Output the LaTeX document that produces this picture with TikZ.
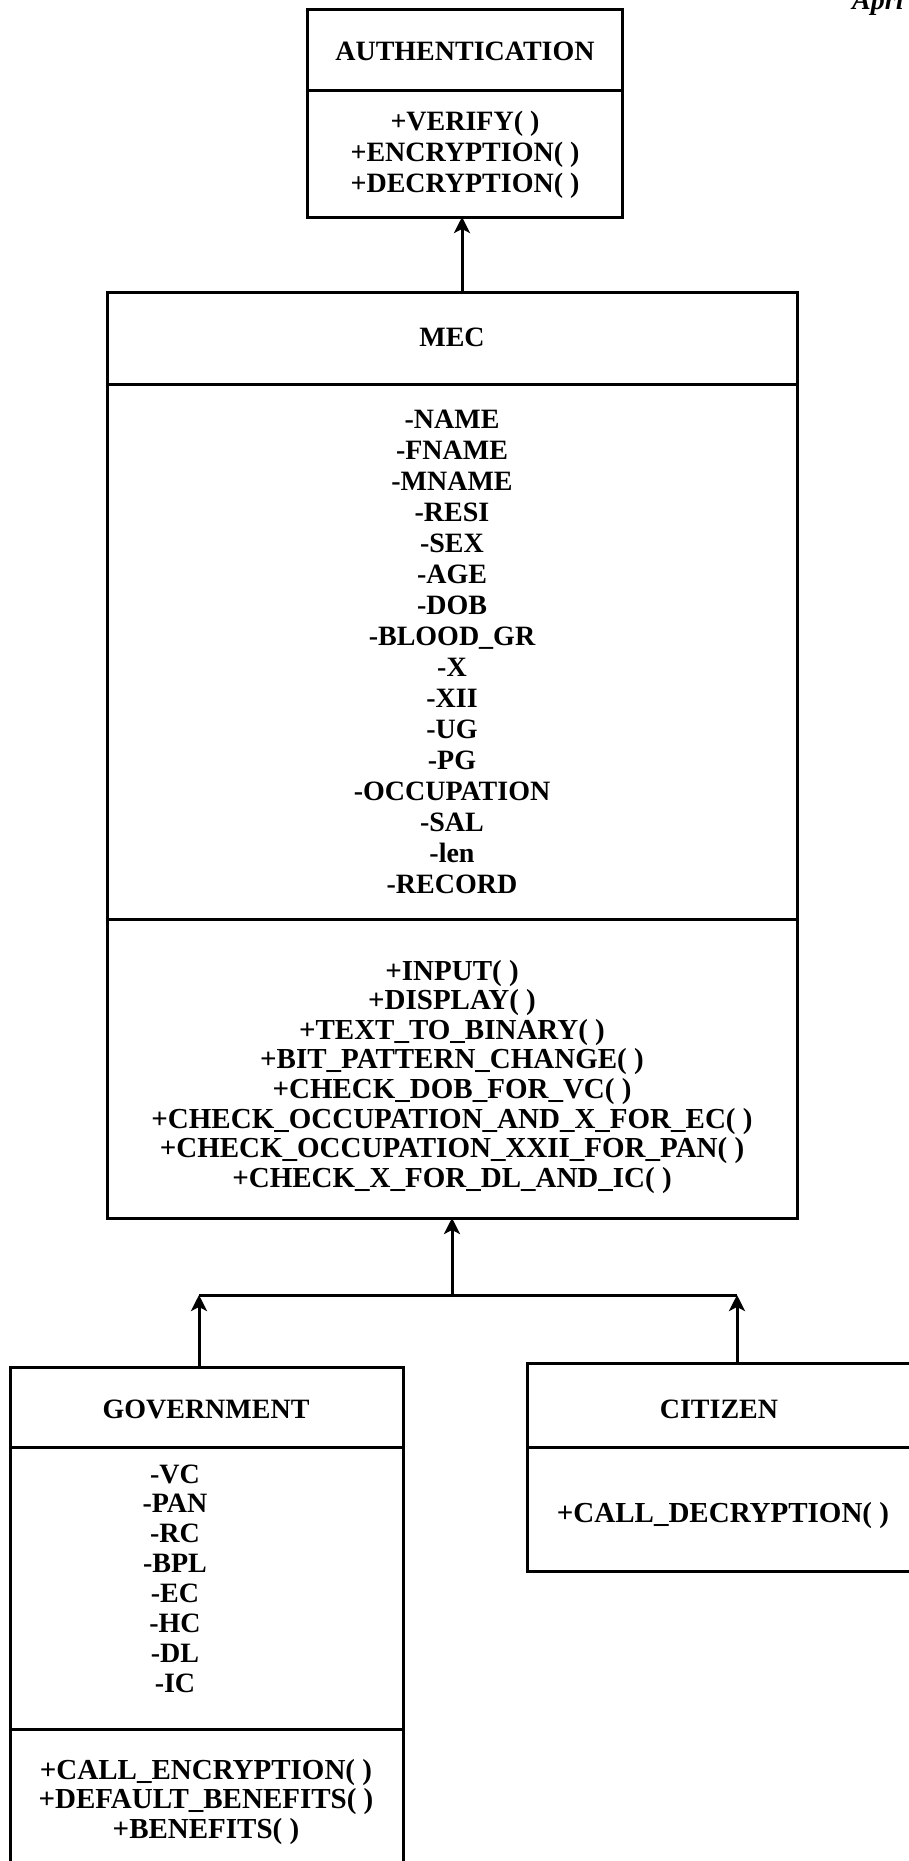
\documentclass[tikz,border=0pt]{standalone}
\usepackage{fontspec}
\setmainfont{Liberation Serif}
\usetikzlibrary{arrows.meta}
\begin{document}
\begin{tikzpicture}[x=1pt,y=-1pt,
  box/.style={draw, line width=3pt, inner sep=0pt, outer sep=0pt, anchor=north west, rectangle},
  divider/.style={line width=3pt},
  txt/.style={font=\fontsize{28}{30}\selectfont\bfseries, anchor=base, inner sep=0pt},
  bigtxt/.style={txt, font=\fontsize{29}{30}\selectfont\bfseries},
  arr/.style={line width=3pt, -{Stealth[length=16pt,width=16pt,inset=4pt]}},
  conn/.style={line width=3pt}]
\path[use as bounding box] (0,0) rectangle (909,1861);
\clip (0,0) rectangle (909,1861);
\fill[white] (0,0) rectangle (909,1861);

% boxes
\node[box, minimum width=315pt, minimum height=208pt] (auth) at (307,9) {};
\node[box, minimum width=690pt, minimum height=926pt] (mec) at (107,292) {};
\node[box, minimum width=393pt, minimum height=600pt] (gov) at (10,1367) {};
\node[box, minimum width=420pt, minimum height=208pt] (cit) at (527,1363) {};

% dividers
\draw[divider] (auth.west |- 0,90) -- (auth.east |- 0,90);
\draw[divider] (mec.west |- 0,384) -- (mec.east |- 0,384);
\draw[divider] (mec.west |- 0,919) -- (mec.east |- 0,919);
\draw[divider] (gov.west |- 0,1447) -- (gov.east |- 0,1447);
\draw[divider] (gov.west |- 0,1729) -- (gov.east |- 0,1729);
\draw[divider] (cit.west |- 0,1447) -- (cit.east |- 0,1447);

% AUTHENTICATION
\node[txt] (authT) at (465,60) {AUTHENTICATION};
\foreach [count=\i] \t in {+VERIFY( ),+ENCRYPTION( ),+DECRYPTION( )}
  \node[txt] (authM\i) at (465,{130+(\i-1)*31}) {\t};

% MEC
\node[txt] (mecT) at (452,346) {MEC};
\foreach [count=\i] \t in {-NAME,-FNAME,-MNAME,-RESI,-SEX,-AGE,-DOB,-BLOOD\_GR,-X,-XII,-UG,-PG,-OCCUPATION,-SAL,-len,-RECORD}
  \node[txt] (mecA\i) at (452,{428+(\i-1)*31}) {\t};
\foreach [count=\i] \t in {+INPUT( ),+DISPLAY( ),+TEXT\_TO\_BINARY( ),+BIT\_PATTERN\_CHANGE( ),+CHECK\_DOB\_FOR\_VC( ),+CHECK\_OCCUPATION\_AND\_X\_FOR\_EC( ),+CHECK\_OCCUPATION\_XXII\_FOR\_PAN( ),+CHECK\_X\_FOR\_DL\_AND\_IC( )}
  \node[bigtxt] (mecM\i) at (452,{980+(\i-1)*29.6}) {\t};

% GOVERNMENT
\node[txt] (govT) at (206,1418) {GOVERNMENT};
\foreach [count=\i] \t in {-VC,-PAN,-RC,-BPL,-EC,-HC,-DL,-IC}
  \node[txt] (govA\i) at (175,{1483+(\i-1)*29.9}) {\t};
\foreach [count=\i] \t in {+CALL\_ENCRYPTION( ),+DEFAULT\_BENEFITS( ),+BENEFITS( )}
  \node[bigtxt] (govM\i) at (206,{1779+(\i-1)*29.5}) {\t};

% CITIZEN
\node[txt] (citT) at (719,1418) {CITIZEN};
\node[bigtxt] (citM) at (723,1522) {+CALL\_DECRYPTION( )};

% corner text
\node[txt, anchor=base west, font=\fontsize{28}{30}\selectfont\bfseries\itshape] (apri) at (852,9) {Apri};

% connectors
\coordinate (ux) at (462,0);
\coordinate (j) at (452,1295);
\coordinate (gl) at (199,1295);
\coordinate (cr) at (737,1295);
\draw[arr] (mec.north -| ux) -- (auth.south -| ux);
\draw[conn] (gl) -- (cr);
\draw[arr] (j) -- (mec.south -| j);
\draw[arr] (gov.north -| gl) -- (gl);
\draw[arr] (cit.north -| cr) -- (cr);
\end{tikzpicture}
\end{document}
